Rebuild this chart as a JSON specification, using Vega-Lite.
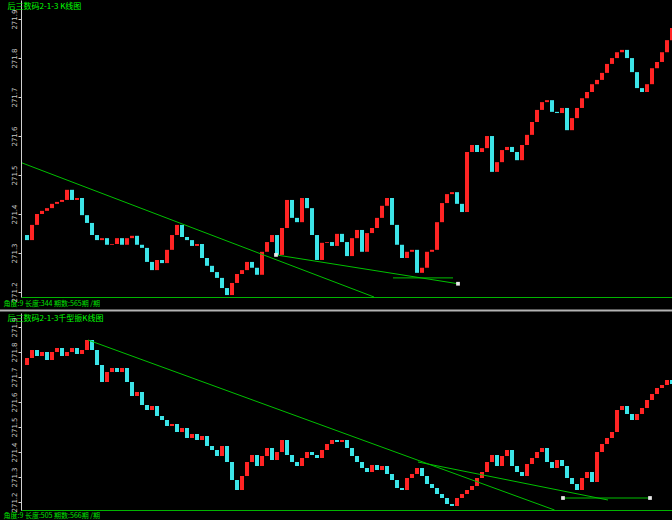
{
  "$schema": "https://vega.github.io/schema/vega-lite/v6.json",
  "width": 672,
  "height": 520,
  "autosize": {"type": "none"},
  "padding": 0,
  "background": "#000000",
  "config": {"view": {"stroke": null}, "font": "Noto Sans CJK SC"},
  "datasets": {
    "top": [
      {"i":0,"c":271.346},{"i":1,"c":271.333},{"i":2,"c":271.372},{"i":3,"c":271.400},{"i":4,"c":271.408},{"i":5,"c":271.415},{"i":6,"c":271.426},{"i":7,"c":271.431},{"i":8,"c":271.436},{"i":9,"c":271.462},
      {"i":10,"c":271.436},{"i":11,"c":271.441},{"i":12,"c":271.397},{"i":13,"c":271.377},{"i":14,"c":271.346},{"i":15,"c":271.333},{"i":16,"c":271.338},{"i":17,"c":271.321},{"i":18,"c":271.323},{"i":19,"c":271.338},
      {"i":20,"c":271.321},{"i":21,"c":271.338},{"i":22,"c":271.344},{"i":23,"c":271.321},{"i":24,"c":271.313},{"i":25,"c":271.277},{"i":26,"c":271.256},{"i":27,"c":271.282},{"i":28,"c":271.274},{"i":29,"c":271.308},
      {"i":30,"c":271.346},{"i":31,"c":271.372},{"i":32,"c":271.341},{"i":33,"c":271.333},{"i":34,"c":271.318},{"i":35,"c":271.323},{"i":36,"c":271.287},{"i":37,"c":271.267},{"i":38,"c":271.251},{"i":39,"c":271.236},
      {"i":40,"c":271.210},{"i":41,"c":271.192},{"i":42,"c":271.223},{"i":43,"c":271.246},{"i":44,"c":271.256},{"i":45,"c":271.277},{"i":46,"c":271.262},{"i":47,"c":271.244},{"i":48,"c":271.303},{"i":49,"c":271.328},
      {"i":50,"c":271.346},{"i":51,"c":271.295},{"i":52,"c":271.364},{"i":53,"c":271.436},{"i":54,"c":271.390},{"i":55,"c":271.379},{"i":56,"c":271.441},{"i":57,"c":271.415},{"i":58,"c":271.346},{"i":59,"c":271.282},
      {"i":60,"c":271.326},{"i":61,"c":271.328},{"i":62,"c":271.318},{"i":63,"c":271.349},{"i":64,"c":271.328},{"i":65,"c":271.292},{"i":66,"c":271.338},{"i":67,"c":271.359},{"i":68,"c":271.303},{"i":69,"c":271.351},
      {"i":70,"c":271.364},{"i":71,"c":271.390},{"i":72,"c":271.421},{"i":73,"c":271.441},{"i":74,"c":271.372},{"i":75,"c":271.321},{"i":76,"c":271.287},{"i":77,"c":271.303},{"i":78,"c":271.308},{"i":79,"c":271.249},
      {"i":80,"c":271.262},{"i":81,"c":271.303},{"i":82,"c":271.308},{"i":83,"c":271.379},{"i":84,"c":271.428},{"i":85,"c":271.451},{"i":86,"c":271.456},{"i":87,"c":271.426},{"i":88,"c":271.405},{"i":89,"c":271.559},
      {"i":90,"c":271.577},{"i":91,"c":271.559},{"i":92,"c":271.569},{"i":93,"c":271.600},{"i":94,"c":271.508},{"i":95,"c":271.533},{"i":96,"c":271.564},{"i":97,"c":271.572},{"i":98,"c":271.559},{"i":99,"c":271.538},
      {"i":100,"c":271.577},{"i":101,"c":271.603},{"i":102,"c":271.636},{"i":103,"c":271.667},{"i":104,"c":271.687},{"i":105,"c":271.692},{"i":106,"c":271.662},{"i":107,"c":271.659},{"i":108,"c":271.672},{"i":109,"c":271.615},
      {"i":110,"c":271.646},{"i":111,"c":271.672},{"i":112,"c":271.697},{"i":113,"c":271.713},{"i":114,"c":271.733},{"i":115,"c":271.744},{"i":116,"c":271.762},{"i":117,"c":271.785},{"i":118,"c":271.800},{"i":119,"c":271.815},
      {"i":120,"c":271.821},{"i":121,"c":271.800},{"i":122,"c":271.764},{"i":123,"c":271.723},{"i":124,"c":271.713},{"i":125,"c":271.733},{"i":126,"c":271.774},{"i":127,"c":271.790},{"i":128,"c":271.815},{"i":129,"c":271.846},
      {"i":130,"c":271.877}
    ],
    "bot": [
      {"i":0,"c":271.748},{"i":1,"c":271.776},{"i":2,"c":271.808},{"i":3,"c":271.784},{"i":4,"c":271.800},{"i":5,"c":271.768},{"i":6,"c":271.800},{"i":7,"c":271.816},{"i":8,"c":271.784},{"i":9,"c":271.800},
      {"i":10,"c":271.816},{"i":11,"c":271.792},{"i":12,"c":271.808},{"i":13,"c":271.848},{"i":14,"c":271.808},{"i":15,"c":271.748},{"i":16,"c":271.680},{"i":17,"c":271.720},{"i":18,"c":271.736},{"i":19,"c":271.720},
      {"i":20,"c":271.736},{"i":21,"c":271.680},{"i":22,"c":271.624},{"i":23,"c":271.640},{"i":24,"c":271.588},{"i":25,"c":271.568},{"i":26,"c":271.584},{"i":27,"c":271.544},{"i":28,"c":271.528},{"i":29,"c":271.504},
      {"i":30,"c":271.512},{"i":31,"c":271.480},{"i":32,"c":271.496},{"i":33,"c":271.456},{"i":34,"c":271.472},{"i":35,"c":271.448},{"i":36,"c":271.464},{"i":37,"c":271.424},{"i":38,"c":271.408},{"i":39,"c":271.384},
      {"i":40,"c":271.424},{"i":41,"c":271.360},{"i":42,"c":271.288},{"i":43,"c":271.248},{"i":44,"c":271.304},{"i":45,"c":271.360},{"i":46,"c":271.388},{"i":47,"c":271.344},{"i":48,"c":271.384},{"i":49,"c":271.416},
      {"i":50,"c":271.368},{"i":51,"c":271.400},{"i":52,"c":271.448},{"i":53,"c":271.388},{"i":54,"c":271.360},{"i":55,"c":271.344},{"i":56,"c":271.376},{"i":57,"c":271.400},{"i":58,"c":271.388},{"i":59,"c":271.376},
      {"i":60,"c":271.408},{"i":61,"c":271.432},{"i":62,"c":271.448},{"i":63,"c":271.440},{"i":64,"c":271.448},{"i":65,"c":271.416},{"i":66,"c":271.384},{"i":67,"c":271.360},{"i":68,"c":271.336},{"i":69,"c":271.320},
      {"i":70,"c":271.348},{"i":71,"c":271.328},{"i":72,"c":271.344},{"i":73,"c":271.312},{"i":74,"c":271.288},{"i":75,"c":271.256},{"i":76,"c":271.248},{"i":77,"c":271.296},{"i":78,"c":271.312},{"i":79,"c":271.336},
      {"i":80,"c":271.304},{"i":81,"c":271.272},{"i":82,"c":271.256},{"i":83,"c":271.232},{"i":84,"c":271.216},{"i":85,"c":271.192},{"i":86,"c":271.184},{"i":87,"c":271.216},{"i":88,"c":271.232},{"i":89,"c":271.248},
      {"i":90,"c":271.264},{"i":91,"c":271.296},{"i":92,"c":271.320},{"i":93,"c":271.360},{"i":94,"c":271.388},{"i":95,"c":271.344},{"i":96,"c":271.384},{"i":97,"c":271.408},{"i":98,"c":271.344},{"i":99,"c":271.320},
      {"i":100,"c":271.304},{"i":101,"c":271.352},{"i":102,"c":271.376},{"i":103,"c":271.400},{"i":104,"c":271.416},{"i":105,"c":271.360},{"i":106,"c":271.336},{"i":107,"c":271.368},{"i":108,"c":271.344},{"i":109,"c":271.296},
      {"i":110,"c":271.272},{"i":111,"c":271.248},{"i":112,"c":271.296},{"i":113,"c":271.320},{"i":114,"c":271.280},{"i":115,"c":271.400},{"i":116,"c":271.432},{"i":117,"c":271.456},{"i":118,"c":271.480},{"i":119,"c":271.568},
      {"i":120,"c":271.584},{"i":121,"c":271.552},{"i":122,"c":271.528},{"i":123,"c":271.552},{"i":124,"c":271.576},{"i":125,"c":271.608},{"i":126,"c":271.632},{"i":127,"c":271.656},{"i":128,"c":271.668},{"i":129,"c":271.688},
      {"i":130,"c":271.672}
    ],
    "topLines": [
      {"x1":0,"v1":271.531,"x2":70.4,"v2":271.187},
      {"x1":50.8,"v1":271.295,"x2":87.2,"v2":271.221},
      {"x1":74.2,"v1":271.236,"x2":86.2,"v2":271.236}
    ],
    "topPts": [
      {"x":50.8,"v":271.295},
      {"x":87.2,"v":271.221}
    ],
    "botLines": [
      {"x1":13.2,"v1":271.848,"x2":106.5,"v2":271.168},
      {"x1":79.2,"v1":271.360,"x2":117.2,"v2":271.208},
      {"x1":108.2,"v1":271.216,"x2":125.6,"v2":271.216}
    ],
    "botPts": [
      {"x":108.2,"v":271.216},
      {"x":125.6,"v":271.216}
    ],
    "one": [{"k": 1}]
  },
  "layer": [
    {
      "layer": [
        {
          "data": {"name": "top"},
          "transform": [{"window": [{"op": "lag", "field": "c", "as": "o"}], "sort": [{"field": "i", "order": "ascending"}]}],
          "mark": {"type": "rule", "strokeWidth": 4, "strokeCap": "butt"},
          "encoding": {
            "x": {"field": "i", "type": "quantitative",
              "scale": {"domain": [-0.2, 130], "range": [21, 672], "nice": false, "zero": false},
              "axis": {"orient": "bottom", "offset": -223, "domainColor": "#00b400", "domainWidth": 1, "ticks": false, "labels": false, "grid": false,
                "title": "角度:9 长度:344 期数:565期 /期", "titleColor": "#00e000", "titleFontSize": 7, "titleFontWeight": "normal", "titleFont": "Noto Sans CJK SC",
                "titleAlign": "left", "titleBaseline": "top", "titleX": 3, "titleY": 2}},
            "y": {"field": "o", "type": "quantitative",
              "scale": {"domain": [271.187, 271.949], "range": [297, 0], "nice": false, "zero": false},
              "axis": {"orient": "left", "offset": -21, "values": [271.2, 271.3, 271.4, 271.5, 271.6, 271.7, 271.8, 271.9], "format": ".1f",
                "domainColor": "#d0d0d0", "tickColor": "#d0d0d0", "tickSize": 3, "labelColor": "#c8c8c8", "labelFontSize": 7, "labelFont": "DejaVu Sans",
                "labelAngle": 270, "labelPadding": 1, "labelOverlap": false, "labelFlush": false, "grid": false,
                "title": "后三数码2-1-3 K线图", "titleColor": "#00ff00", "titleFontSize": 8, "titleFontWeight": "normal", "titleFont": "Noto Sans CJK SC",
                "titleAngle": 0, "titleAlign": "left", "titleBaseline": "top", "titleX": -14, "titleY": 2}},
            "y2": {"field": "c"},
            "color": {"condition": {"test": "datum.c >= datum.o", "value": "#ff2424"}, "value": "#3ce4e8"}
          }
        },
        {
          "data": {"name": "topLines"},
          "mark": {"type": "rule", "color": "#00c000", "strokeWidth": 1},
          "encoding": {
            "x": {"field": "x1", "type": "quantitative", "scale": {"domain": [-0.2, 130], "range": [21, 672], "nice": false, "zero": false}},
            "x2": {"field": "x2"},
            "y": {"field": "v1", "type": "quantitative", "scale": {"domain": [271.187, 271.949], "range": [297, 0], "nice": false, "zero": false}},
            "y2": {"field": "v2"}
          }
        },
        {
          "data": {"name": "topPts"},
          "mark": {"type": "square", "color": "#e8e8e8", "opacity": 1, "size": 14},
          "encoding": {
            "x": {"field": "x", "type": "quantitative", "scale": {"domain": [-0.2, 130], "range": [21, 672], "nice": false, "zero": false}},
            "y": {"field": "v", "type": "quantitative", "scale": {"domain": [271.187, 271.949], "range": [297, 0], "nice": false, "zero": false}}
          }
        }
      ]
    },
    {
      "layer": [
        {
          "data": {"name": "bot"},
          "transform": [{"window": [{"op": "lag", "field": "c", "as": "o"}], "sort": [{"field": "i", "order": "ascending"}]}],
          "mark": {"type": "rule", "strokeWidth": 4, "strokeCap": "butt"},
          "encoding": {
            "x": {"field": "i", "type": "quantitative",
              "scale": {"domain": [-0.2, 130], "range": [21, 672], "nice": false, "zero": false},
              "axis": {"orient": "bottom", "offset": -10, "domainColor": "#00b400", "domainWidth": 1, "ticks": false, "labels": false, "grid": false,
                "title": "角度:9 长度:505 期数:566期 /期", "titleColor": "#00e000", "titleFontSize": 7, "titleFontWeight": "normal", "titleFont": "Noto Sans CJK SC",
                "titleAlign": "left", "titleBaseline": "top", "titleX": 3, "titleY": 1}},
            "y": {"field": "o", "type": "quantitative",
              "scale": {"domain": [271.168, 271.956], "range": [510, 313], "nice": false, "zero": false},
              "axis": {"orient": "left", "offset": -21, "values": [271.2, 271.3, 271.4, 271.5, 271.6, 271.7, 271.8, 271.9], "format": ".1f",
                "domainColor": "#d0d0d0", "tickColor": "#d0d0d0", "tickSize": 3, "labelColor": "#c8c8c8", "labelFontSize": 7, "labelFont": "DejaVu Sans",
                "labelAngle": 270, "labelPadding": 1, "labelOverlap": false, "labelFlush": false, "grid": false,
                "title": "后三数码2-1-3千型振K线图", "titleColor": "#00ff00", "titleFontSize": 8, "titleFontWeight": "normal", "titleFont": "Noto Sans CJK SC",
                "titleAngle": 0, "titleAlign": "left", "titleBaseline": "top", "titleX": -14, "titleY": 314}},
            "y2": {"field": "c"},
            "color": {"condition": {"test": "datum.c >= datum.o", "value": "#ff2424"}, "value": "#3ce4e8"}
          }
        },
        {
          "data": {"name": "one"},
          "mark": {"type": "rule", "color": "#b4b4b4", "strokeWidth": 2},
          "encoding": {
            "y": {"datum": 271.966, "type": "quantitative", "scale": {"domain": [271.168, 271.956], "range": [510, 313], "nice": false, "zero": false}}
          }
        },
        {
          "data": {"name": "botLines"},
          "mark": {"type": "rule", "color": "#00c000", "strokeWidth": 1},
          "encoding": {
            "x": {"field": "x1", "type": "quantitative", "scale": {"domain": [-0.2, 130], "range": [21, 672], "nice": false, "zero": false}},
            "x2": {"field": "x2"},
            "y": {"field": "v1", "type": "quantitative", "scale": {"domain": [271.168, 271.956], "range": [510, 313], "nice": false, "zero": false}},
            "y2": {"field": "v2"}
          }
        },
        {
          "data": {"name": "botPts"},
          "mark": {"type": "square", "color": "#e8e8e8", "opacity": 1, "size": 14},
          "encoding": {
            "x": {"field": "x", "type": "quantitative", "scale": {"domain": [-0.2, 130], "range": [21, 672], "nice": false, "zero": false}},
            "y": {"field": "v", "type": "quantitative", "scale": {"domain": [271.168, 271.956], "range": [510, 313], "nice": false, "zero": false}}
          }
        }
      ]
    }
  ],
  "resolve": {"scale": {"x": "independent", "y": "independent"}, "axis": {"x": "independent", "y": "independent"}}
}
